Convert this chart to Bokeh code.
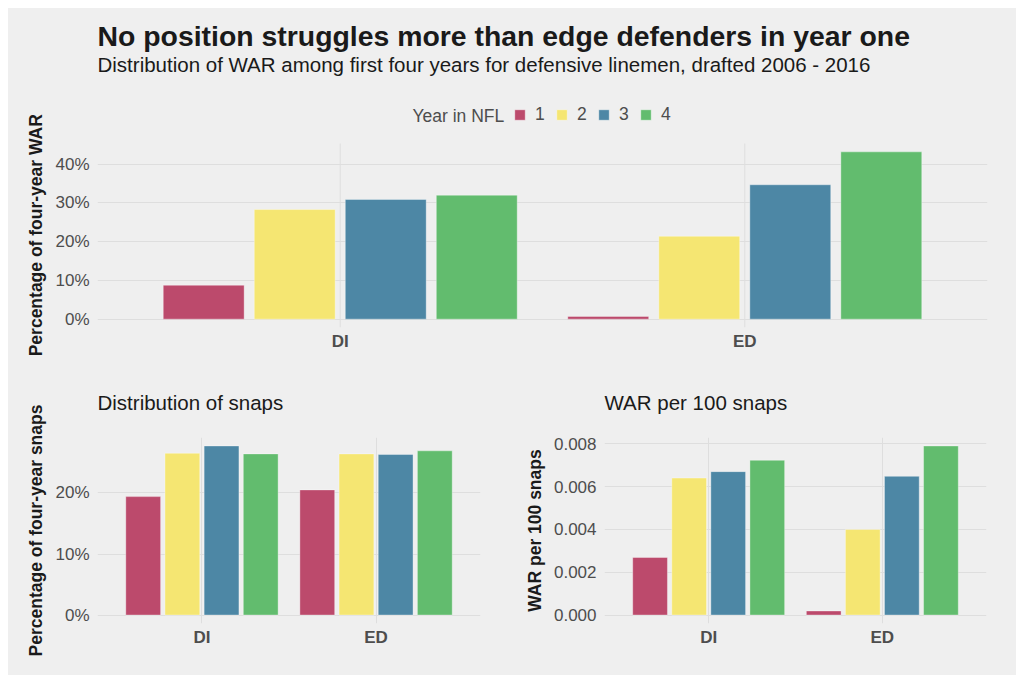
from bokeh.plotting import figure
from bokeh.layouts import column, row
from bokeh.models import (ColumnDataSource, FactorRange, Range1d, FixedTicker,
                          NumeralTickFormatter, Legend, LegendItem, Label)
from bokeh.transform import dodge
from bokeh.embed import file_html
from bokeh.resources import INLINE

# ---------------- data ----------------
positions = ["DI", "ED"]
years = ["1", "2", "3", "4"]

war_share_y1 = [0.0875, 0.007]
war_share_y2 = [0.283, 0.214]
war_share_y3 = [0.309, 0.347]
war_share_y4 = [0.320, 0.432]

snap_share_y1 = [0.194, 0.205]
snap_share_y2 = [0.265, 0.264]
snap_share_y3 = [0.277, 0.263]
snap_share_y4 = [0.264, 0.269]

war_per100_y1 = [0.00269, 0.00019]
war_per100_y2 = [0.0064, 0.0040]
war_per100_y3 = [0.0067, 0.00648]
war_per100_y4 = [0.00723, 0.0079]

war_ticks = [0, 0.1, 0.2, 0.3, 0.4]
snap_ticks = [0, 0.1, 0.2]
per100_ticks = [0, 0.002, 0.004, 0.006, 0.008]

title_text = "No position struggles more than edge defenders in year one"
subtitle_text = "Distribution of WAR among first four years for defensive linemen, drafted 2006 - 2016"
legend_title = "Year in NFL"

# ---------------- style ----------------
BG = "#EFEFEF"
GRID = "#DEDEDE"
FONT = "Liberation Sans"
DARK = "#1A1A1A"
colors = ["#BC4A6C", "#F5E672", "#4D87A5", "#62BC6E"]
offsets = [-0.3375, -0.1125, 0.1125, 0.3375]
NBSP = "\u00a0"


def make_fig(width, height, left, right, top, bottom, series, ticks, fmt, ylabel,
             stretch=1.0):
    """stretch > 1 extends the frame upwards beyond the data panel (room for header)."""
    ymax = max(max(s) for s in series)
    y0 = -0.05 * ymax
    y1 = y0 + 1.1 * ymax * stretch
    p = figure(width=width, height=height,
               x_range=FactorRange(factors=positions, range_padding=0.1,
                                   range_padding_units="absolute"),
               y_range=Range1d(y0, y1),
               output_backend="svg", toolbar_location=None,
               min_border_left=left, min_border_right=right,
               min_border_top=top, min_border_bottom=bottom)
    p.background_fill_color = BG
    p.border_fill_color = BG
    p.outline_line_color = None
    if stretch != 1.0:
        p.xgrid.visible = False
        p.segment(x0=positions, x1=positions, y0=[y0] * len(positions),
                  y1=[1.05 * ymax] * len(positions), line_color=GRID, line_width=1)
    else:
        p.xgrid.grid_line_color = GRID
    rs = []
    for vals, off, col in zip(series, offsets, colors):
        src = ColumnDataSource(dict(pos=positions, val=vals))
        rs.append(p.vbar(x=dodge("pos", off, range=p.x_range), top="val", width=0.2,
                         source=src, fill_color=col, fill_alpha=1.0,
                         line_color="white", line_alpha=0.35, line_width=1))
    p.yaxis.ticker = FixedTicker(ticks=ticks)
    p.yaxis.formatter = NumeralTickFormatter(format=fmt)
    for ax in (p.xaxis[0], p.yaxis[0]):
        ax.axis_line_color = None
        ax.major_tick_line_color = None
        ax.minor_tick_line_color = None
        ax.major_tick_out = 0
        ax.major_tick_in = 0
        ax.minor_tick_out = 0
        ax.minor_tick_in = 0
        ax.major_label_text_font = FONT
        ax.major_label_text_color = "#4D4D4D"
    p.yaxis.major_label_text_font_size = "17px"
    p.yaxis.major_label_standoff = 8
    p.xaxis.major_label_text_font_size = "17px"
    p.xaxis.major_label_text_font_style = "bold"
    p.xaxis.major_label_standoff = 4
    p.yaxis.axis_label = ylabel
    p.yaxis.axis_label_text_font = FONT
    p.yaxis.axis_label_text_font_size = "17.5px"
    p.yaxis.axis_label_text_font_style = "bold"
    p.yaxis.axis_label_text_color = DARK
    p.yaxis.axis_label_standoff = 6
    p.ygrid.grid_line_color = GRID
    p.title.text_font = FONT
    p.title.text_color = DARK
    p.title.align = "left"
    return p, rs


def add_label(p, text, x, y, size, color=DARK):
    p.add_layout(Label(x=x, y=y, x_units="screen", y_units="screen", text=text,
                       text_font=FONT, text_font_size=size, text_color=color,
                       text_baseline="middle", text_align="left"))


# ---------------- top chart: title above, subtitle + legend inside stretched frame ----------------
TOP_H, TOP_MT, TOP_MB = 370, 47, 51
TOP_FRAME_H = TOP_H - TOP_MT - TOP_MB
PANEL_H = 184
top, top_r = make_fig(1008, TOP_H, 89, 29, TOP_MT, TOP_MB,
                      [war_share_y1, war_share_y2, war_share_y3, war_share_y4],
                      war_ticks, "0%", "Percentage of four-year WAR" + NBSP * 18,
                      stretch=TOP_FRAME_H / PANEL_H)
top.title.text = title_text
top.title.text_font_size = "28.4px"
top.title.text_font_style = "bold"
top.title.standoff = 8

add_label(top, subtitle_text, 0, 263, "20.5px")
add_label(top, legend_title, 315, 212, "17.5px", color="#4D4D4D")
legend = Legend(items=[LegendItem(label=y, renderers=[r]) for y, r in zip(years, top_r)],
                orientation="horizontal", location=(412, 198),
                glyph_width=13, glyph_height=13, label_standoff=9, label_width=10,
                spacing=10, label_text_font=FONT, label_text_font_size="17.5px",
                label_text_color="#4D4D4D", background_fill_alpha=0,
                border_line_alpha=0, padding=4, margin=0)
top.add_layout(legend)

# ---------------- bottom charts ----------------
bl, _ = make_fig(500, 297, 89, 28, 59, 52,
                 [snap_share_y1, snap_share_y2, snap_share_y3, snap_share_y4],
                 snap_ticks, "0%", "Percentage of four-year snaps")
br, _ = make_fig(508, 297, 96, 30, 59, 52,
                 [war_per100_y1, war_per100_y2, war_per100_y3, war_per100_y4],
                 per100_ticks, "0.000", "WAR per 100 snaps")
for p, t in ((bl, "Distribution of snaps"), (br, "WAR per 100 snaps")):
    p.title.text = t + "\n"
    p.title.text_font_size = "20.5px"
    p.title.text_font_style = "normal"
    p.title.standoff = 2

bottom_row = row(bl, br, styles={"background-color": BG})
layout = column(top, bottom_row, styles={"background-color": BG})
layout.margin = (8, 8, 8, 8)
open("out.html", "w").write(file_html(layout, INLINE))
